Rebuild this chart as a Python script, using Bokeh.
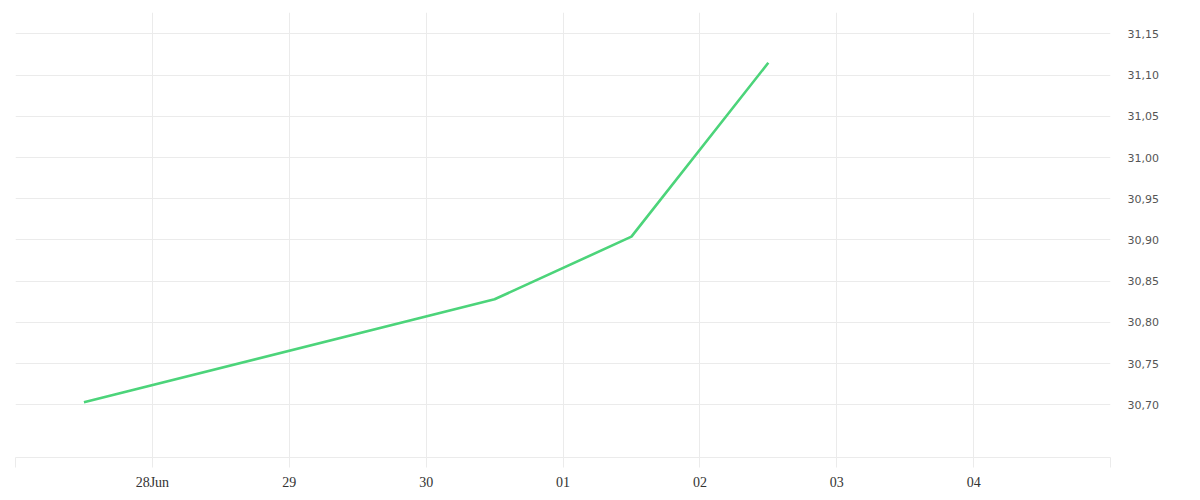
from datetime import datetime
from bokeh.plotting import figure
from bokeh.models import FixedTicker, ColumnDataSource, Range1d
from bokeh.embed import file_html
from bokeh.resources import INLINE

# data
dates = [datetime(2023, 6, 27, 12), datetime(2023, 6, 30, 12),
         datetime(2023, 7, 1, 12), datetime(2023, 7, 2, 12)]
values = [30.703, 30.828, 30.904, 31.115]

tick_dates = [datetime(2023, 6, 27), datetime(2023, 6, 28), datetime(2023, 6, 29),
              datetime(2023, 6, 30), datetime(2023, 7, 1), datetime(2023, 7, 2),
              datetime(2023, 7, 3), datetime(2023, 7, 4), datetime(2023, 7, 5)]
tick_labels = ["", "28Jun", "29", "30", "01", "02", "03", "04", ""]

y_ticks = [30.70, 30.75, 30.80, 30.85, 30.90, 30.95, 31.00, 31.05, 31.10, 31.15]
y_labels = ["30,70", "30,75", "30,80", "30,85", "30,90", "30,95", "31,00", "31,05", "31,10", "31,15"]

def ms(d):
    return (d - datetime(1970, 1, 1)).total_seconds() * 1000.0

xs = [ms(d) for d in dates]
tx = [ms(d) for d in tick_dates]

src = ColumnDataSource(dict(x=xs, y=values))

p = figure(width=1192, height=492, output_backend="svg",
           toolbar_location=None, y_axis_location="right",
           x_range=Range1d(tx[0], tx[-1]), y_range=Range1d(30.636, 31.176),
           min_border_left=15, min_border_top=12, min_border_right=82, min_border_bottom=34)
p.outline_line_color = None
p.background_fill_color = "white"
p.border_fill_color = "white"

p.line("x", "y", source=src, line_color="#4cd47a", line_width=2.6)

# x axis
p.xaxis.ticker = FixedTicker(ticks=tx)
p.xaxis.major_label_overrides = {t: l for t, l in zip(tx, tick_labels)}
p.xaxis.axis_line_color = "#ebebeb"
p.xaxis.major_tick_line_color = "#ebebeb"
p.xaxis.major_tick_out = 10
p.xaxis.major_tick_in = 0
p.xaxis.minor_tick_line_color = None
p.xaxis.major_label_standoff = 7
p.xaxis.major_label_text_font = "Liberation Serif"
p.xaxis.major_label_text_font_size = "14px"
p.xaxis.major_label_text_color = "#333333"

# y axis
p.yaxis.ticker = FixedTicker(ticks=y_ticks)
p.yaxis.major_label_overrides = {t: l for t, l in zip(y_ticks, y_labels)}
p.yaxis.axis_line_color = None
p.yaxis.major_tick_line_color = None
p.yaxis.minor_tick_line_color = None
p.yaxis.major_label_standoff = 11
p.yaxis.major_label_text_font = "DejaVu Sans"
p.yaxis.major_label_text_font_size = "11px"
p.yaxis.major_label_text_color = "#555555"

p.xgrid.grid_line_color = "#ebebeb"
p.ygrid.grid_line_color = "#ebebeb"
p.xgrid.ticker = FixedTicker(ticks=tx)
p.ygrid.ticker = FixedTicker(ticks=y_ticks)

open("out.html", "w").write(file_html(p, INLINE))
